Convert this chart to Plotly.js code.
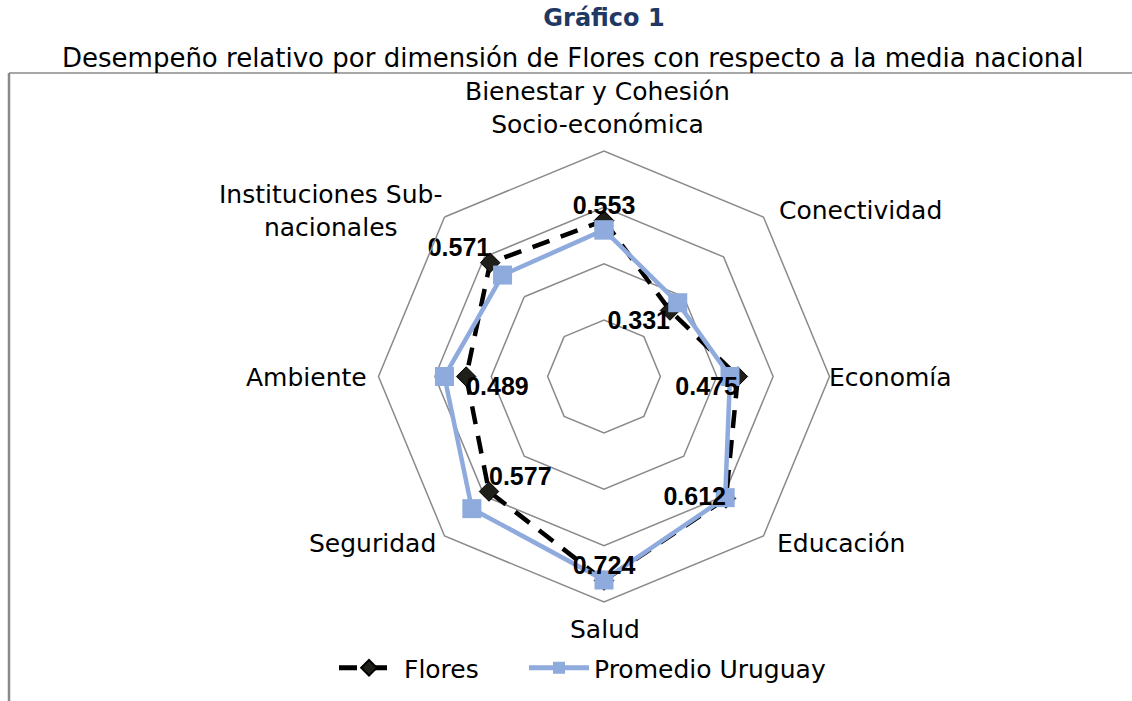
<!DOCTYPE html>
<html>
<head>
<meta charset="utf-8">
<script src="https://cdn.plot.ly/plotly-3.0.1.min.js"></script>
<style>html,body{margin:0;padding:0;background:#fff;}#chart{width:1132px;height:701px;}</style>
</head>
<body>
<div id="chart"></div>
<script>
const categories = [
  "Bienestar y Cohesión Socio-económica",
  "Conectividad",
  "Economía",
  "Educación",
  "Salud",
  "Seguridad",
  "Ambiente",
  "Instituciones Sub-nacionales"
];
const floresValues = [0.553, 0.331, 0.475, 0.612, 0.724, 0.577, 0.489, 0.571];
const promedioValues = [0.52, 0.37, 0.447, 0.608, 0.722, 0.663, 0.566, 0.509];
const labelPositions = ["top center","bottom left","bottom left","middle left","top center","top right","bottom right","top left"];
const categoryLabels = [
  "Bienestar y Cohesión<br>Socio-económica",
  "Conectividad",
  "Economía",
  "Educación",
  "Salud",
  "Seguridad",
  "Ambiente",
  "Instituciones Sub-<br>nacionales"
];

const W = 1132, H = 701;
const FONT = "DejaVu Sans, sans-serif";
const close = a => a.concat([a[0]]);

const traces = [
  {
    type: "scatterpolar",
    name: "Flores",
    legend: "legend",
    r: close(floresValues),
    theta: close(categories),
    mode: "lines+markers",
    line: {color: "#000000", width: 4.5, dash: "18px,12px"},
    marker: {symbol: "diamond", size: 15, color: "#1f1f1a", line: {color: "#000", width: 1}},
    hoverinfo: "skip"
  },
  {
    type: "scatterpolar",
    name: "Promedio Uruguay",
    legend: "legend2",
    r: close(promedioValues),
    theta: close(categories),
    mode: "lines+markers",
    line: {color: "#8FAADC", width: 4.5},
    marker: {symbol: "square", size: 19, color: "#8FAADC"},
    hoverinfo: "skip"
  },
  {
    type: "scatterpolar",
    showlegend: false,
    r: floresValues,
    theta: categories,
    mode: "text",
    text: floresValues.map(v => v.toFixed(3)),
    textposition: labelPositions,
    textfont: {family: "Liberation Sans, Arial, sans-serif", size: 25, color: "#000", weight: "bold"},
    cliponaxis: false,
    hoverinfo: "skip"
  }
];

// label anchor points (pixel centers)
const labelPix = [
  [597, 108], [860, 211], [890, 377], [841, 543],
  [605, 629], [372, 543], [306, 377], [330, 211]
];
const annotations = categoryLabels.map((t, i) => ({
  text: t, xref: "paper", yref: "paper",
  x: labelPix[i][0] / W, y: 1 - labelPix[i][1] / H,
  xanchor: "center", yanchor: "middle", showarrow: false,
  align: "center",
  font: {family: FONT, size: 25, color: "#000"}
}));
annotations.push({
  text: "Desempeño relativo por dimensión de Flores con respecto a la media nacional",
  xref: "paper", yref: "paper", x: 572 / W, y: 1 - 58 / H,
  xanchor: "center", yanchor: "middle", showarrow: false,
  font: {family: FONT, size: 26, color: "#000"}
});

const legendBase = {
  orientation: "h", yanchor: "middle", y: 1 - 668 / H, xanchor: "left",
  font: {family: FONT, size: 25, color: "#000"},
  itemwidth: 60, itemsizing: "constant", bgcolor: "rgba(0,0,0,0)"
};

const cx = 604, cy = 376.5, R = 225.5;
const layout = {
  width: W, height: H,
  margin: {l: 0, r: 0, t: 0, b: 0},
  paper_bgcolor: "#fff",
  showlegend: true,
  title: {
    text: "<b>Gráfico 1</b>",
    x: 604 / W, xanchor: "center",
    y: 1 - 18 / H, yanchor: "middle", yref: "paper",
    font: {family: FONT, size: 24, color: "#1F3864"}
  },
  legend: Object.assign({}, legendBase, {x: 334 / W}),
  legend2: Object.assign({}, legendBase, {x: 524 / W}),
  polar: {
    domain: {x: [(cx - R) / W, (cx + R) / W], y: [(H - cy - R) / H, (H - cy + R) / H]},
    bgcolor: "#fff",
    gridshape: "linear",
    angularaxis: {
      rotation: 90, direction: "clockwise",
      showline: true, linecolor: "#8a8a8a", linewidth: 1.5,
      showgrid: false, showticklabels: false, ticks: ""
    },
    radialaxis: {
      range: [0, 0.8], dtick: 0.2, tick0: 0,
      showline: false, showticklabels: false, ticks: "",
      gridcolor: "#8a8a8a", gridwidth: 1.5
    }
  },
  annotations: annotations,
  shapes: [
    {type: "line", xref: "paper", yref: "paper", x0: 9 / W, x1: 1.01, y0: 1 - 73 / H, y1: 1 - 73 / H, line: {color: "#8a8a8a", width: 1.5}},
    {type: "line", xref: "paper", yref: "paper", x0: 9 / W, x1: 9 / W, y0: 1 - 73 / H, y1: -0.01, line: {color: "#8a8a8a", width: 2.5}}
  ]
};

Plotly.newPlot("chart", traces, layout, {displayModeBar: false, staticPlot: true});
</script>
</body>
</html>
